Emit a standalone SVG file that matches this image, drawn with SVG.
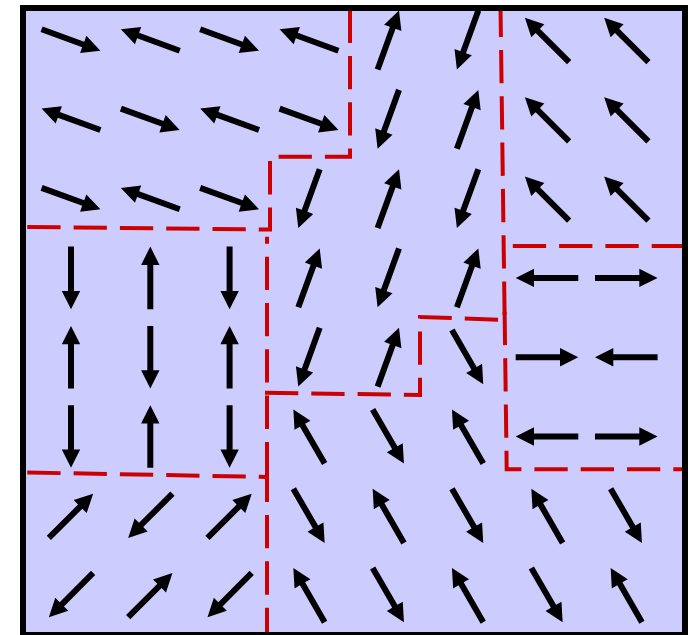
<svg xmlns="http://www.w3.org/2000/svg" xmlns:xlink="http://www.w3.org/1999/xlink" width="695" height="635" viewBox="0 0 695 635">
<style>
.wall{fill:none;stroke:#cc0000;stroke-width:4;stroke-dasharray:33.3 13;stroke-linejoin:miter}
.arr{fill:#000}
</style>
<defs>
<polygon id="ar" class="arr" points="-31.3,-3 13,-3 13,-9.2 31.3,0 13,9.2 13,3 -31.3,3"/>
</defs>
<rect x="0" y="0" width="695" height="635" fill="#ffffff"/>
<rect x="23" y="8" width="662" height="627" fill="#ccccff"/>
<g id="walls">
<path class="wall" d="M27.3 227 L270 229.5 L270 156.7 L350 156.7 L350 5"/>
<path class="wall" style="stroke-dashoffset:26.3" d="M267 236.7 L267 477"/>
<path class="wall" d="M265 392.7 L420 395 L420 317 L500 319.8"/>
<path class="wall" style="stroke-dashoffset:1.3" d="M500.5 5 L504.6 315"/>
<path class="wall" style="stroke-dashoffset:21.6" d="M685 469.3 L506.7 469.3 L504.6 311.5"/>
<path class="wall" d="M685 246 L512 246"/>
<path class="wall" d="M27.3 472.5 L267 477 L267 640"/>
</g>
<g id="arrows">
<!-- row 0 -->
<use href="#ar" transform="translate(71 40) rotate(20)"/>
<use href="#ar" transform="translate(150.3 40) rotate(200)"/>
<use href="#ar" transform="translate(229.6 40) rotate(20)"/>
<use href="#ar" transform="translate(309 40) rotate(200)"/>
<use href="#ar" transform="translate(388.3 40) rotate(-70)"/>
<use href="#ar" transform="translate(467.6 40) rotate(110)"/>
<use href="#ar" transform="translate(547 40) rotate(225)"/>
<use href="#ar" transform="translate(626.3 40) rotate(225)"/>
<!-- row 1 -->
<use href="#ar" transform="translate(71 119.3) rotate(200)"/>
<use href="#ar" transform="translate(150.3 119.3) rotate(20)"/>
<use href="#ar" transform="translate(229.6 119.3) rotate(200)"/>
<use href="#ar" transform="translate(309 119.3) rotate(20)"/>
<use href="#ar" transform="translate(388.3 119.3) rotate(110)"/>
<use href="#ar" transform="translate(467.6 119.3) rotate(-70)"/>
<use href="#ar" transform="translate(547 119.3) rotate(225)"/>
<use href="#ar" transform="translate(626.3 119.3) rotate(225)"/>
<!-- row 2 -->
<use href="#ar" transform="translate(71 198.6) rotate(20)"/>
<use href="#ar" transform="translate(150.3 198.6) rotate(200)"/>
<use href="#ar" transform="translate(229.6 198.6) rotate(20)"/>
<use href="#ar" transform="translate(309 198.6) rotate(110)"/>
<use href="#ar" transform="translate(388.3 198.6) rotate(-70)"/>
<use href="#ar" transform="translate(467.6 198.6) rotate(110)"/>
<use href="#ar" transform="translate(547 198.6) rotate(225)"/>
<use href="#ar" transform="translate(626.3 198.6) rotate(225)"/>
<!-- row 3 -->
<use href="#ar" transform="translate(71 277.9) rotate(90)"/>
<use href="#ar" transform="translate(150.3 277.9) rotate(-90)"/>
<use href="#ar" transform="translate(229.6 277.9) rotate(90)"/>
<use href="#ar" transform="translate(309 277.9) rotate(-70)"/>
<use href="#ar" transform="translate(388.3 277.9) rotate(110)"/>
<use href="#ar" transform="translate(467.6 277.9) rotate(-70)"/>
<use href="#ar" transform="translate(547 277.9) rotate(180)"/>
<use href="#ar" transform="translate(626.3 277.9) rotate(0)"/>
<!-- row 4 -->
<use href="#ar" transform="translate(71 357.2) rotate(-90)"/>
<use href="#ar" transform="translate(150.3 357.2) rotate(90)"/>
<use href="#ar" transform="translate(229.6 357.2) rotate(-90)"/>
<use href="#ar" transform="translate(309 357.2) rotate(110)"/>
<use href="#ar" transform="translate(388.3 357.2) rotate(-70)"/>
<use href="#ar" transform="translate(467.6 357.2) rotate(60)"/>
<use href="#ar" transform="translate(547 357.2) rotate(0)"/>
<use href="#ar" transform="translate(626.3 357.2) rotate(180)"/>
<!-- row 5 -->
<use href="#ar" transform="translate(71 436.5) rotate(90)"/>
<use href="#ar" transform="translate(150.3 436.5) rotate(-90)"/>
<use href="#ar" transform="translate(229.6 436.5) rotate(90)"/>
<use href="#ar" transform="translate(309 436.5) rotate(240)"/>
<use href="#ar" transform="translate(388.3 436.5) rotate(60)"/>
<use href="#ar" transform="translate(467.6 436.5) rotate(240)"/>
<use href="#ar" transform="translate(547 436.5) rotate(180)"/>
<use href="#ar" transform="translate(626.3 436.5) rotate(0)"/>
<!-- row 6 -->
<use href="#ar" transform="translate(71 515.8) rotate(-45)"/>
<use href="#ar" transform="translate(150.3 515.8) rotate(135)"/>
<use href="#ar" transform="translate(229.6 515.8) rotate(-45)"/>
<use href="#ar" transform="translate(309 515.8) rotate(60)"/>
<use href="#ar" transform="translate(388.3 515.8) rotate(240)"/>
<use href="#ar" transform="translate(467.6 515.8) rotate(60)"/>
<use href="#ar" transform="translate(547 515.8) rotate(240)"/>
<use href="#ar" transform="translate(626.3 515.8) rotate(60)"/>
<!-- row 7 -->
<use href="#ar" transform="translate(71 595.1) rotate(135)"/>
<use href="#ar" transform="translate(150.3 595.1) rotate(-45)"/>
<use href="#ar" transform="translate(229.6 595.1) rotate(135)"/>
<use href="#ar" transform="translate(309 595.1) rotate(240)"/>
<use href="#ar" transform="translate(388.3 595.1) rotate(60)"/>
<use href="#ar" transform="translate(467.6 595.1) rotate(240)"/>
<use href="#ar" transform="translate(547 595.1) rotate(60)"/>
<use href="#ar" transform="translate(626.3 595.1) rotate(240)"/>
</g>
<rect x="23" y="8" width="662" height="627" fill="none" stroke="#000000" stroke-width="6"/>
</svg>
